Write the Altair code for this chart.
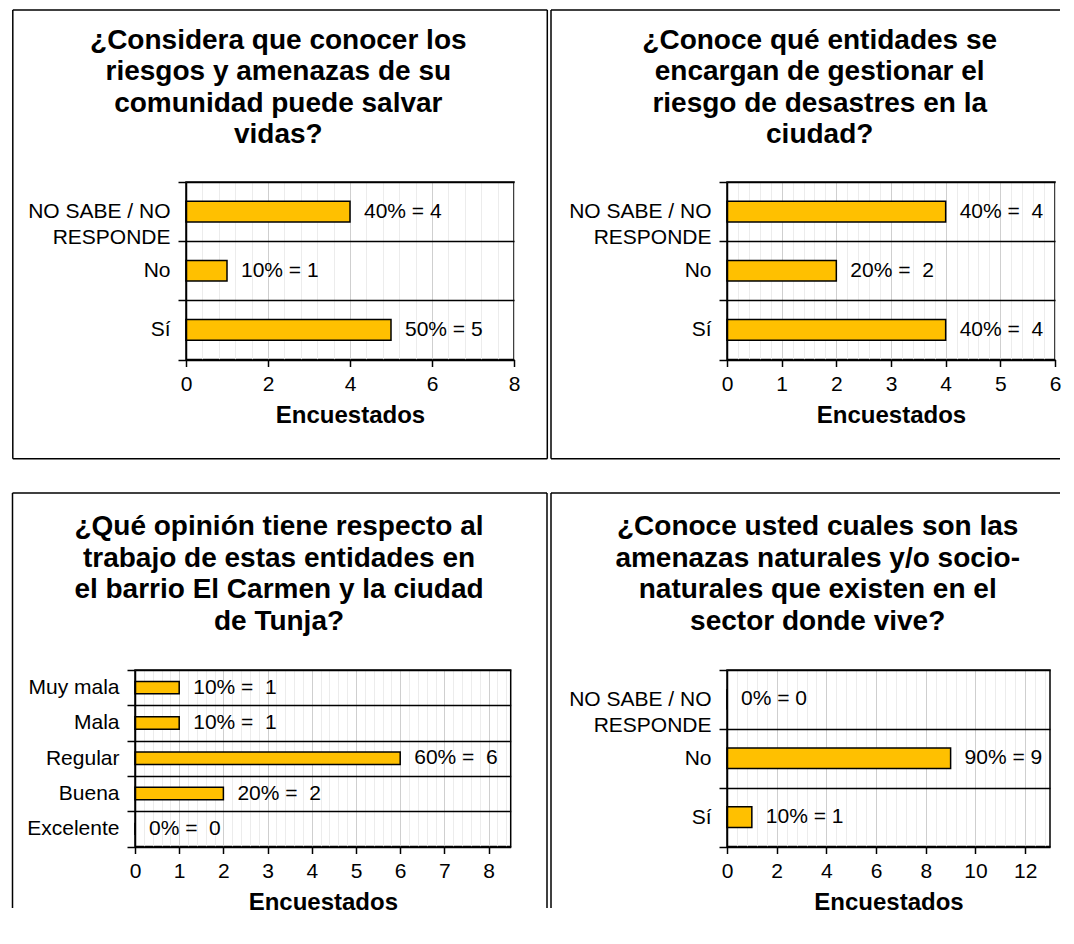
import altair as alt
import pandas as pd

FONT = "Liberation Sans"

# ---------------- data ----------------
title1 = ["¿Considera que conocer los", "riesgos y amenazas de su", "comunidad puede salvar", "vidas?"]
cats1 = ["NO SABE / NO|RESPONDE", "No", "Sí"]
vals1 = [4, 1, 5]
pcts1 = [40, 10, 50]

title2 = ["¿Conoce qué entidades se", "encargan de gestionar el", "riesgo de desastres en la", "ciudad?"]
cats2 = ["NO SABE / NO|RESPONDE", "No", "Sí"]
vals2 = [4, 2, 4]
pcts2 = [40, 20, 40]

title3 = ["¿Qué opinión tiene respecto al", "trabajo de estas entidades en", "el barrio El Carmen y la ciudad", "de Tunja?"]
cats3 = ["Muy mala", "Mala", "Regular", "Buena", "Excelente"]
vals3 = [1, 1, 6, 2, 0]
pcts3 = [10, 10, 60, 20, 0]

title4 = ["¿Conoce usted cuales son las", "amenazas naturales y/o socio-", "naturales que existen en el", "sector donde vive?"]
cats4 = ["NO SABE / NO|RESPONDE", "No", "Sí"]
vals4 = [0, 9, 1]
pcts4 = [0, 90, 10]

ticks1 = [0, 2, 4, 6, 8]
ticks2 = [0, 1, 2, 3, 4, 5, 6]
ticks3 = [0, 1, 2, 3, 4, 5, 6, 7, 8]
ticks4 = [0, 2, 4, 6, 8, 10, 12]

AXIS_TITLE = "Encuestados"
SEP1 = " = "
SEP2 = " =\u00a0 "


def rule(x1, x2, y1, y2):
    d = pd.DataFrame({"f": [1]})
    return alt.Chart(d).mark_rule(color="black", strokeWidth=1.5).encode(
        x=alt.value(x1), x2=alt.value(x2), y=alt.value(y1), y2=alt.value(y2)
    )


def spacer():
    d = pd.DataFrame({"f": [1]})
    return alt.Chart(d).mark_rule(strokeWidth=0, strokeOpacity=0).encode(
        x=alt.value(0), x2=alt.value(0), y=alt.value(0), y2=alt.value(0)
    ).properties(width=1, height=1, view=alt.ViewBackground(stroke="transparent"))


def panel(title, cats, vals, pcts, sep, xmax, majors, minor, w, h, frame, tpos, sides_on):
    df = pd.DataFrame({
        "cat": cats,
        "val": vals,
        "label": [f"{p}%{sep}{v}" for p, v in zip(pcts, vals)],
    })
    n = int(round(xmax / minor))
    grid_vals = [round(i * minor, 4) for i in range(n + 1)]
    test = " || ".join(f"abs(datum.value - {m}) < 0.001" for m in majors)

    xaxis = alt.Axis(
        values=grid_vals,
        labelExpr=f"({test}) ? format(datum.value, 'd') : ''",
        labelOverlap=False,
        labelFlush=False,
        labelFont=FONT, labelFontSize=21, labelColor="black", labelPadding=7,
        tickColor="black", tickWidth=1.5, tickSize=7,
        tickOpacity={"condition": {"test": test, "value": 1}, "value": 0},
        grid=True, gridWidth=1,
        gridColor={"condition": {"test": test, "value": "#cfcfcf"}, "value": "#ececec"},
        domainColor="black", domainWidth=1.5,
        title=AXIS_TITLE, titleFont=FONT, titleFontSize=24, titleFontWeight="bold",
        titleColor="black", titlePadding=9,
    )
    yaxis = alt.Axis(
        title=None,
        labelExpr="split(datum.label, '|')",
        labelFont=FONT, labelFontSize=21, labelColor="black", labelLineHeight=26,
        labelPadding=8,
        tickBand="extent", tickColor="black", tickWidth=1.5, tickSize=8,
        grid=True, gridColor="black", gridWidth=1.5,
        domainColor="black", domainWidth=1.5,
        zindex=1,
    )
    x = alt.X("val:Q", scale=alt.Scale(domain=[0, xmax], nice=False, zero=True), axis=xaxis)
    y = alt.Y("cat:N", sort=cats, scale=alt.Scale(paddingInner=0, paddingOuter=0), axis=yaxis)

    bars = alt.Chart(df).mark_bar(
        height=alt.RelativeBandSize(0.35), fill="#FFC000", stroke="black", strokeWidth=1.5
    ).encode(x=x, y=y)
    labels = alt.Chart(df).mark_text(
        align="left", baseline="middle", dx=14, font=FONT, fontSize=21, color="black"
    ).encode(x=x, y=y, text="label:N")

    title_layers = []
    for i, line in enumerate(title):
        tdf = pd.DataFrame({"t": [line]})
        title_layers.append(
            alt.Chart(tdf).mark_text(
                align="center", baseline="middle", font=FONT, fontSize=28,
                fontWeight="bold", color="black"
            ).encode(x=alt.value(tpos[0]), y=alt.value(tpos[1] + 31.5 * i), text="t:N")
        )

    l, r, t, b = frame
    left_on, right_on, bottom_on = sides_on
    sides = [rule(l, r, t, t)]
    if left_on:
        sides.append(rule(l, l, t, b))
    if right_on:
        sides.append(rule(r, r, t, b))
    if bottom_on:
        sides.append(rule(l, r, b, b))
    return alt.layer(*sides, bars, labels, *title_layers).properties(width=w, height=h)


p1 = panel(title1, cats1, vals1, pcts1, SEP1, 8, ticks1, 0.4, 328, 177.5,
           (-173.2, 361.3, -172, 276.7), (92.3, -141.3), (True, True, True))
p2 = panel(title2, cats2, vals2, pcts2, SEP2, 6, ticks2, 0.2, 328, 177.5,
           (-176, 333, -172, 276.7), (92.7, -141.3), (True, False, True))
p3 = panel(title3, cats3, vals3, pcts3, SEP2, 8.5, ticks3, 0.2, 375.7, 176.5,
           (-122.5, 412, -177, 238), (144, -143), (True, True, False))
p4 = panel(title4, cats4, vals4, pcts4, SEP1, 13, ticks4, 0.4, 323, 176.5,
           (-176, 333, -177, 238), (90.7, -143), (True, False, False))

chart = alt.vconcat(
    alt.hconcat(spacer(), p1, p2, spacing=0),
    alt.hconcat(spacer(), p3, p4, spacing=0),
    spacing=30,
).configure(
    padding=0, background="white"
).configure_view(
    stroke="black", strokeWidth=1.5
)

chart.save("out.html", embed_options={"renderer": "svg", "actions": False})
